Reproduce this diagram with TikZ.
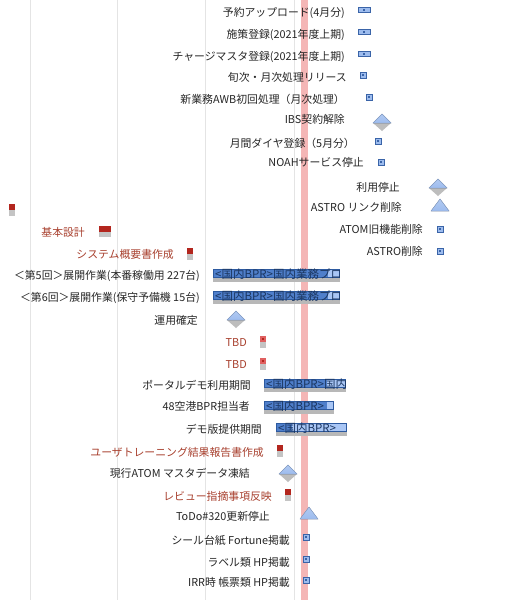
\documentclass[tikz,border=0pt]{standalone}
\usepackage{fontspec}
\setmainfont{Noto Sans CJK JP}
\definecolor{txtk}{HTML}{262626}
\definecolor{txtr}{HTML}{A8402E}
\definecolor{todayc}{HTML}{F4B6B6}
\definecolor{gridc}{HTML}{E4E4E4}
\definecolor{bardk}{HTML}{4F7FCB}
\definecolor{barlt}{HTML}{A9C6F5}
\definecolor{barln}{HTML}{2D5AA0}
\definecolor{barsh}{HTML}{B8B8B8}
\definecolor{mb}{HTML}{9DBCEE}
\definecolor{mbdk}{HTML}{3A64A8}
\definecolor{rdk}{HTML}{B3261E}
\definecolor{rlt}{HTML}{E06060}
\definecolor{rgray}{HTML}{C4C4C4}
\definecolor{dgray}{HTML}{BDBDBD}
\tikzset{
  lbl/.style={anchor=east, inner sep=0pt, text=txtk, font=\fontsize{10.85}{12}\selectfont},
  rlbl/.style={lbl, text=txtr},
  barlbl/.style={anchor=west, inner sep=0pt, text=barln!60!black, font=\fontsize{11.5}{12}\selectfont},
  bsq/.pic={\draw[draw=mbdk, fill=mb, line width=0.5pt] (-3,-3) rectangle (3,3);
            \fill[mbdk] (-0.7,-0.7) rectangle (0.7,0.7);},
  bwide/.pic={\draw[draw=mbdk, fill=mb, line width=0.5pt] (-6,-2.5) rectangle (6,2.5);
            \fill[mbdk] (-0.7,-0.7) rectangle (0.7,0.7);},
  rsq/.pic={\fill[rdk] (-3,-6) rectangle (3,0); \fill[rgray] (-3,0) rectangle (3,6);},
  rsqlt/.pic={\fill[rlt] (-3,-6) rectangle (3,0); \fill[rgray] (-3,0) rectangle (3,6);
            \fill[rdk] (-0.7,-3.7) rectangle (0.7,-2.3);},
  rwide/.pic={\fill[rdk] (-6,-5.5) rectangle (6,0.5); \fill[rgray] (-6,0.5) rectangle (6,5.5);},
  dia/.pic={\fill[dgray] (-9,1) -- (9,1) -- (0,9) -- cycle;
            \fill[top color=mb!80, bottom color=mb, draw=mbdk!60, line width=0.4pt] (-9,1) -- (0,-8) -- (9,1) -- cycle;},
  tri/.pic={\fill[top color=mb!80, bottom color=mb, draw=mbdk!60, line width=0.4pt] (-9,5) -- (0,-7) -- (9,5) -- cycle;}
}
\newcommand\ganttbar[6]{%
  \fill[barsh] (#2,#5+3.5) rectangle (#4+1,#5+8);
  \fill[bardk] (#2,#5-5) rectangle (#3,#5+3.5);
  \fill[barlt] (#3,#5-5) rectangle (#4,#5+3.5);
  \draw[barln, line width=0.6pt] (#2,#5-5) rectangle (#4,#5+3.5);
  \begin{scope}
    \clip (#2,#5-7) rectangle (#4,#5+6);
    \node[barlbl] (#1) at (#2+2,#5) {#6};
  \end{scope}}
\begin{document}
\begin{tikzpicture}[x=1pt,y=-1pt]
\useasboundingbox (0,0) rectangle (522,600);
\fill[white] (0,0) rectangle (522,600);
% grid
\foreach \gx in {30,117,205,294} \draw[gridc, line width=0.7pt] (\gx,0) -- (\gx,600);
% today band
\fill[todayc] (301,0) rectangle (308,600);

% rows
\node[lbl] (r1) at (345,12.5) {予約アップロード(4月分)};
\pic at (364,10) {bwide};
\node[lbl] (r2) at (345,34.5) {施策登録(2021年度上期)};
\pic at (364,32) {bwide};
\node[lbl] (r3) at (345,56.5) {チャージマスタ登録(2021年度上期)};
\pic at (364,54) {bwide};
\node[lbl] (r4) at (347,77.5) {旬次・月次処理リリース};
\pic at (363,75) {bsq};
\node[lbl] (r5) at (345,99.5) {新業務AWB初回処理（月次処理）};
\pic at (369,97) {bsq};
\node[lbl] (r6) at (345,119.5) {IBS契約解除};
\pic at (382,122) {dia};
\node[lbl] (r7) at (355,143.5) {月間ダイヤ登録（5月分）};
\pic at (378,141) {bsq};
\node[lbl] (r8) at (364,162.5) {NOAHサービス停止};
\pic at (381,162) {bsq};
\node[lbl] (r9) at (400,187.5) {利用停止};
\pic at (438,187) {dia};
\node[lbl] (r10) at (402,207.5) {ASTRO リンク削除};
\pic at (440,206) {tri};
\node[lbl] (r11) at (423,229.5) {ATOM旧機能削除};
\pic at (440,229) {bsq};
\node[lbl] (r12) at (423,251.5) {ASTRO削除};
\pic at (440,251) {bsq};

% left red items
\pic at (11.5,210) {rsq};
\node[rlbl] (r13) at (85,232.5) {基本設計};
\pic at (105,231.5) {rwide};
\node[rlbl] (r14) at (174,254.5) {システム概要書作成};
\pic at (190,254) {rsq};

% bars
\node[lbl] (r15) at (200,275.5) {＜第5回＞展開作業(本番稼働用 227台)};
\ganttbar{b1}{213}{328}{339}{274}{<国内BPR>国内業務プロジェクト};
\node[lbl] (r16) at (200,297.5) {＜第6回＞展開作業(保守予備機 15台)};
\ganttbar{b2}{213}{328}{339}{296}{<国内BPR>国内業務プロジェクト};
\node[lbl] (r17) at (198,320.5) {運用確定};
\pic at (236,319) {dia};
\node[rlbl] (r18) at (247,342.5) {TBD};
\pic at (263,342) {rsqlt};
\node[rlbl] (r19) at (247,364.5) {TBD};
\pic at (263,364) {rsqlt};
\node[lbl] (r20) at (251,385.5) {ポータルデモ利用期間};
\ganttbar{b3}{264}{327}{345}{384}{<国内BPR>国内業務};
\node[lbl] (r21) at (250,406.5) {48空港BPR担当者};
\ganttbar{b4}{264}{327}{333}{406}{<国内BPR>};
\node[lbl] (r22) at (262,429.5) {デモ版提供期間};
\ganttbar{b5}{276}{292}{346}{428}{<国内BPR>};
\node[rlbl] (r23) at (264,452.5) {ユーザトレーニング結果報告書作成};
\pic at (280,451) {rsq};
\node[lbl] (r24) at (250,473.5) {現行ATOM マスタデータ凍結};
\pic at (288,473) {dia};
\node[rlbl] (r25) at (272,496.5) {レビュー指摘事項反映};
\pic at (288,495) {rsq};
\node[lbl] (r26) at (270,516.5) {ToDo\#320更新停止};
\pic at (309,514) {tri};
\node[lbl] (r27) at (290,540.5) {シール台紙 Fortune掲載};
\pic at (306,537) {bsq};
\node[lbl] (r28) at (290,562.5) {ラベル類 HP掲載};
\pic at (306,559) {bsq};
\node[lbl] (r29) at (290,582.5) {IRR時 帳票類 HP掲載};
\pic at (306,580) {bsq};
\end{tikzpicture}
\end{document}
